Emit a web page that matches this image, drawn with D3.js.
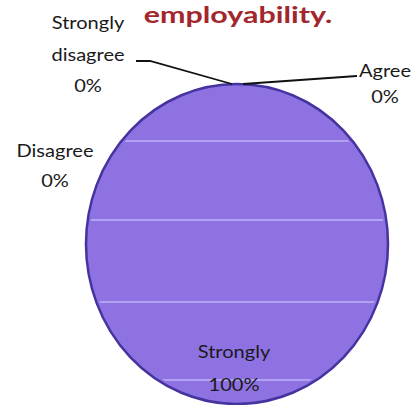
<!DOCTYPE html>
<html><head><meta charset="utf-8">
<script src="https://cdn.jsdelivr.net/npm/d3@7"></script>
<style>body{margin:0;background:#fff}svg{display:block}</style>
</head><body>
<svg id="c" width="414" height="405"></svg>
<script>
const categories = ["Strongly disagree", "Disagree", "Agree", "Strongly agree"];
const values = [0, 0, 0, 100];
const labelLines = [["Strongly", "disagree"], ["Disagree"], ["Agree"], ["Strongly"]];
const titleText = "employability.";

const svg = d3.select("#c");
const cx = 237, cy = 244, rx = 151, ry = 160;

svg.append("text").attr("x", 238).attr("y", 22)
  .attr("text-anchor", "middle").attr("font-family", "Lato").attr("font-weight", "bold")
  .attr("font-size", 21).attr("fill", "#a3262c")
  .attr("transform", "translate(238,0) scale(1.45,1.05) translate(-238,0)")
  .text(titleText);

const pie = d3.pie().sort(null).startAngle(0).endAngle(2 * Math.PI);
const arcs = pie(values);
const arc = d3.arc().innerRadius(0).outerRadius(rx);

const g = svg.append("g").attr("transform", `translate(${cx},${cy}) scale(1,${ry / rx})`);
g.selectAll("path").data(arcs).join("path")
  .attr("d", arc)
  .attr("fill", "#8e72e2")
  .attr("stroke", d => d.data > 0 ? "#45339f" : "none")
  .attr("stroke-width", 2.5)
  .attr("vector-effect", "non-scaling-stroke");

// faint light stripes across the pie (scan artifacts in the source)
const stripeYs = [141, 220, 302, 380];
const defs = svg.append("defs");
defs.append("clipPath").attr("id", "clip").append("ellipse")
  .attr("cx", cx).attr("cy", cy).attr("rx", rx - 3).attr("ry", ry - 3);
svg.append("g").attr("clip-path", "url(#clip)").selectAll("line").data(stripeYs).join("line")
  .attr("x1", cx - rx).attr("x2", cx + rx).attr("y1", d => d).attr("y2", d => d)
  .attr("stroke", "#b2a2f2").attr("stroke-width", 2);

// labels
const labelPos = [
  {x: 88, ys: [29, 61, 92]},
  {x: 55, ys: [157, 187]},
  {x: 385, ys: [77, 103]},
  {x: 234, ys: [358, 391]}
];
categories.forEach((c, i) => {
  const p = labelPos[i];
  const lines = labelLines[i].concat([d3.format(".0%")(values[i] / d3.sum(values))]);
  lines.forEach((l, j) => {
    svg.append("text").attr("text-anchor", "middle")
      .attr("transform", `translate(${p.x},${p.ys[j]}) scale(1.18,1)`)
      .attr("font-family", "Lato").attr("font-size", 17).attr("fill", "#1a1a1a")
      .text(l);
  });
});

// leader lines
const topPt = [cx, cy - ry];
svg.append("path").attr("fill", "none").attr("stroke", "#111").attr("stroke-width", 1.8)
  .attr("d", d3.line()([[136, 61], [150, 61], [topPt[0] - 5, topPt[1]]]));
svg.append("path").attr("fill", "none").attr("stroke", "#111").attr("stroke-width", 1.8)
  .attr("d", d3.line()([[topPt[0] + 6, topPt[1]], [357, 76]]));
</script>
</body></html>
